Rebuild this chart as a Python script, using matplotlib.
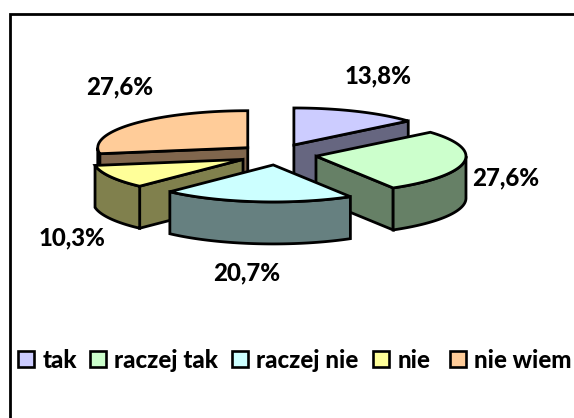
import numpy as np
import matplotlib.pyplot as plt

categories = ['tak', 'raczej tak', 'raczej nie', 'nie', 'nie wiem']
values = [13.8, 27.6, 20.7, 10.3, 27.6]
tick_labels = ['13,8%', '27,6%', '20,7%', '10,3%', '27,6%']

colors = ['#CCCCFF', '#CCFFCC', '#CCFFFF', '#FFFF99', '#FFCC99']
sides = ['#666680', '#668066', '#668080', '#80804D', '#80664D']

plt.rcParams['font.family'] = ['Lato', 'DejaVu Sans']

# pie geometry, in pixels of the picture
cx, cy = 277.5, 154.5
rx, ry = 150, 37
depth = 42
explode_x, explode_y = 39, 10.5
line_w = 2.0

# label centre x, baseline y
label_pos = [(378, 83), (506, 185), (247, 280), (71.5, 245), (120, 94)]
legend_box_x = [18, 90, 232, 373, 450]
legend_text_x = [43, 114, 256, 398, 474]
legend_base = 368

fig = plt.figure(figsize=(5.74, 4.18), dpi=100)
ax = fig.add_axes([0, 0, 1, 1])
ax.set_xlim(0, 574)
ax.set_ylim(418, 0)
ax.axis('off')

# frame, runs off the bottom and the right of the picture
ax.plot([9.5, 9.5, 580], [425, 14, 14], color='black', lw=2.0, solid_joinstyle='miter')

edges = np.cumsum([0] + values) / np.sum(values) * 2 * np.pi


def rim(a, ox, oy):
    return ox + rx * np.sin(a), oy - ry * np.cos(a)


def draw_slice(i):
    a0, a1 = edges[i], edges[i + 1]
    mid = (a0 + a1) / 2
    ox = cx + explode_x * np.sin(mid)
    oy = cy - explode_y * np.cos(mid)
    style = dict(facecolor=sides[i], edgecolor='black', lw=line_w, joinstyle='miter')

    # cut faces
    for a, visible in ((a0, np.sin(a0) < 0), (a1, np.sin(a1) > 0)):
        if visible:
            x, y = rim(a, ox, oy)
            ax.fill([ox, x, x, ox], [oy, y, y + depth, oy + depth], **style)

    # outer wall, only the front half of the ellipse shows
    lo, hi = max(a0, np.pi / 2), min(a1, 3 * np.pi / 2)
    if lo < hi:
        t = np.linspace(lo, hi, 60)
        x, y = rim(t, ox, oy)
        ax.fill(np.r_[x, x[::-1]], np.r_[y, y[::-1] + depth], **style)

    # top
    t = np.linspace(a0, a1, 120)
    x, y = rim(t, ox, oy)
    ax.fill(np.r_[ox, x], np.r_[oy, y], facecolor=colors[i], edgecolor='black', lw=line_w, joinstyle='miter')


for i in [0, 4, 3, 1, 2]:
    draw_slice(i)

for (x, y), s in zip(label_pos, tick_labels):
    ax.text(x, y, s, ha='center', va='baseline', fontsize=17.3, fontweight='black', color='black')

for i, name in enumerate(categories):
    ax.add_patch(plt.Rectangle((legend_box_x[i], 351), 16, 16, facecolor=colors[i], edgecolor='black', lw=1.9))
    ax.text(legend_text_x[i], legend_base, name, ha='left', va='baseline', fontsize=17.3, fontweight='black', color='black')

fig.savefig('out.png', dpi=100)
